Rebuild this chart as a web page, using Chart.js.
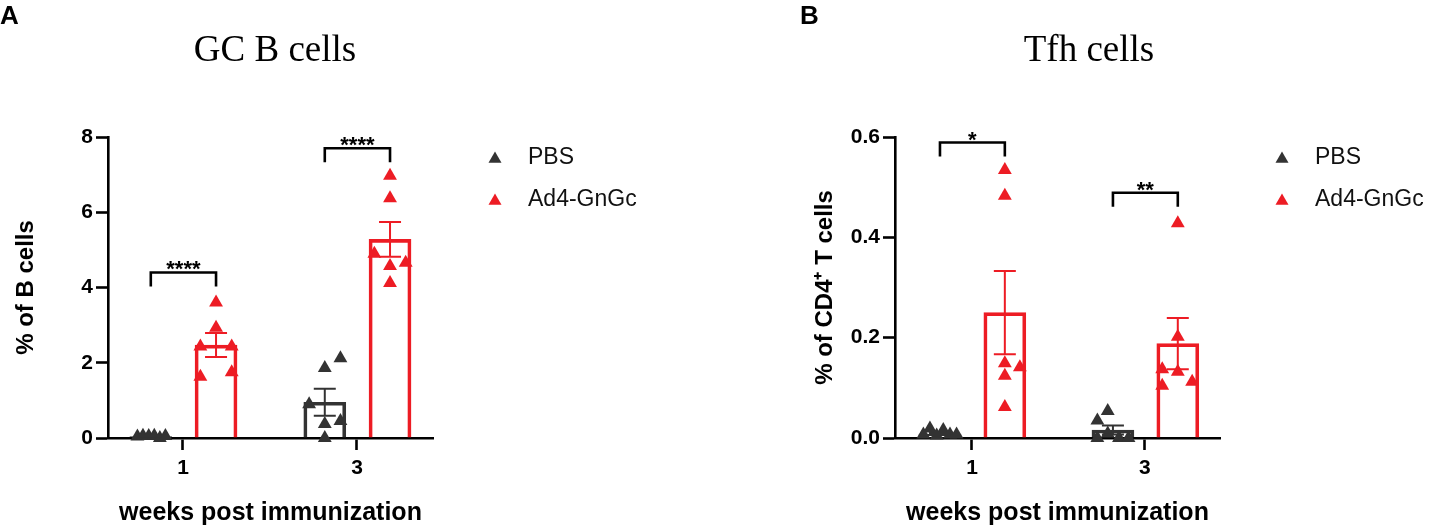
<!DOCTYPE html>
<html>
<head>
<meta charset="utf-8">
<title>GC B cells / Tfh cells</title>
<script src="https://cdn.jsdelivr.net/npm/chart.js@4.4.1/dist/chart.umd.min.js"></script>
<style>
  html, body { margin: 0; padding: 0; background: #fff; }
  #wrap { position: relative; width: 1434px; height: 528px; }
  canvas { position: absolute; top: 0; }
  #chartA { left: 0; }
  #chartB { left: 717px; }
</style>
</head>
<body>
<div id="wrap">
  <canvas id="chartA" width="717" height="528"></canvas>
  <canvas id="chartB" width="717" height="528"></canvas>
</div>
<script>
// ---- data ----
const weeks = ['1', '3'];
const groups = ['PBS', 'Ad4-GnGc'];

// A: GC B cells, % of B cells (6 mice per group)
const gcPbsPoints = [[0.04, 0.06, 0.05, 0.06, 0.0, 0.05], [1.86, 2.12, 0.9, 0.37, 0.45, 0.0]];
const gcAdPoints  = [[3.6, 2.93, 2.43, 2.43, 1.63, 1.75], [6.97, 6.37, 4.9, 4.57, 4.66, 4.12]];
const gcPbsMean = [0.04, 0.95];
const gcPbsSem  = [0.01, 0.36];
const gcAdMean  = [2.47, 5.28];
const gcAdSem   = [0.32, 0.46];
const gcSigY     = [4.4, 7.7];
const gcSigLabel = ['****', '****'];
const gcTicks = [0, 2, 4, 6, 8];

// B: Tfh cells, % of CD4+ T cells
const tfhPbsPoints = [[0.019, 0.016, 0.007, 0.005, 0.007, 0.007], [0.054, 0.035, 0.009, 0.0, 0.0, 0.0]];
const tfhAdPoints  = [[0.534, 0.483, 0.149, 0.141, 0.124, 0.062], [0.428, 0.202, 0.137, 0.132, 0.104, 0.112]];
const tfhPbsMean = [0.008, 0.016];
const tfhPbsSem  = [0.002, 0.009];
const tfhAdMean  = [0.25, 0.188];
const tfhAdSem   = [0.083, 0.051];
const tfhSigY     = [0.589, 0.489];
const tfhSigLabel = ['*', '**'];
const tfhTicks = [0, 0.2, 0.4, 0.6];

// ---- style ----
const SANS = 'Arial, "Liberation Sans", Helvetica, sans-serif';
const SERIF = '"Times New Roman", "Liberation Serif", Times, serif';
const DARK = '#333333';
const RED = '#ED1C24';
const PBS_OFF = -0.185;
const AD_OFF = 0.19;

Chart.defaults.font.family = SANS;
Chart.defaults.color = '#000';

function barData(means, off) {
  return means.map((m, i) => ({ x: i + off, y: m }));
}
function dotData(points, jitter, off) {
  const out = [];
  points.forEach((g, i) => g.forEach((v, j) => out.push({ x: i + off + jitter[i][j], y: v })));
  return out;
}

function triangle(ctx, x, y, r) {
  ctx.beginPath();
  ctx.moveTo(x, y - r);
  ctx.lineTo(x + r * Math.sin(2 * Math.PI / 3), y + r / 2);
  ctx.lineTo(x - r * Math.sin(2 * Math.PI / 3), y + r / 2);
  ctx.closePath();
  ctx.fill();
}

// error bars, significance brackets, titles, legend
const decor = {
  id: 'decor',
  afterDatasetsDraw(chart, args, o) {
    const { ctx } = chart;
    const y = chart.scales.y;
    ctx.save();
    // mean +- SEM
    o.errors.forEach(e => {
      const meta = chart.getDatasetMeta(e.ds);
      e.mean.forEach((m, i) => {
        const px = meta.data[i].x;
        const top = y.getPixelForValue(m + e.sem[i]);
        const bot = y.getPixelForValue(Math.max(0, m - e.sem[i]));
        ctx.strokeStyle = e.color;
        ctx.lineWidth = 2;
        ctx.beginPath();
        ctx.moveTo(px, top); ctx.lineTo(px, bot);
        ctx.moveTo(px - 11, top); ctx.lineTo(px + 11, top);
        ctx.moveTo(px - 11, bot); ctx.lineTo(px + 11, bot);
        ctx.stroke();
      });
    });
    // brackets
    const a = chart.getDatasetMeta(0), b = chart.getDatasetMeta(1);
    o.sigY.forEach((v, i) => {
      const x1 = a.data[i].x, x2 = b.data[i].x;
      const yb = y.getPixelForValue(v);
      ctx.strokeStyle = '#000';
      ctx.lineWidth = 2.6;
      ctx.beginPath();
      ctx.moveTo(x1, yb + 14); ctx.lineTo(x1, yb); ctx.lineTo(x2, yb); ctx.lineTo(x2, yb + 14);
      ctx.stroke();
      ctx.fillStyle = '#000';
      ctx.font = 'bold 22px ' + SANS;
      ctx.textAlign = 'center';
      ctx.textBaseline = 'alphabetic';
      ctx.fillText(o.sigLabel[i], (x1 + x2) / 2, yb + 4);
    });
    ctx.restore();
  },
  afterDraw(chart, args, o) {
    const { ctx } = chart;
    ctx.save();
    ctx.fillStyle = '#000';
    ctx.textBaseline = 'alphabetic';
    ctx.textAlign = 'left';
    ctx.font = 'bold 26px ' + SANS;
    ctx.fillText(o.letter, o.letterX, 24);
    ctx.textAlign = 'center';
    ctx.font = '37px ' + SERIF;
    ctx.fillText(o.title, o.titleX, 61);
    // legend
    ctx.font = '23px ' + SANS;
    ctx.textAlign = 'left';
    ctx.textBaseline = 'middle';
    [2, 3].forEach((d, k) => {
      const ds = chart.data.datasets[d];
      const ly = 158 + k * 42;
      ctx.fillStyle = ds.backgroundColor;
      triangle(ctx, o.legendX, ly + 1, 7.5);
      ctx.fillStyle = '#111';
      ctx.fillText(ds.label, o.legendX + 33, ly);
    });
    ctx.restore();
  }
};

function makePanel(id, p) {
  return new Chart(document.getElementById(id), {
    type: 'bar',
    data: {
      datasets: [
        { type: 'bar', label: groups[0], data: barData(p.pbsMean, PBS_OFF), grouped: false,
          backgroundColor: 'rgba(0,0,0,0)', borderColor: DARK, borderWidth: 3,
          maxBarThickness: 42, barPercentage: 1, categoryPercentage: 1, order: 2 },
        { type: 'bar', label: groups[1], data: barData(p.adMean, AD_OFF), grouped: false,
          backgroundColor: 'rgba(0,0,0,0)', borderColor: RED, borderWidth: 3,
          maxBarThickness: 42, barPercentage: 1, categoryPercentage: 1, order: 2 },
        { type: 'scatter', label: groups[0], data: dotData(p.pbsPoints, p.pbsJitter, PBS_OFF),
          pointStyle: 'triangle', pointRadius: 8, backgroundColor: DARK, borderColor: DARK,
          borderWidth: 0, clip: false, order: 0 },
        { type: 'scatter', label: groups[1], data: dotData(p.adPoints, p.adJitter, AD_OFF),
          pointStyle: 'triangle', pointRadius: 8, backgroundColor: RED, borderColor: RED,
          borderWidth: 0, clip: false, order: 0 }
      ]
    },
    options: {
      responsive: false,
      animation: false,
      layout: { padding: { left: p.padLeft, right: p.padRight, top: 137, bottom: 0 } },
      plugins: {
        legend: { display: false },
        tooltip: { enabled: false },
        decor: {
          errors: [
            { ds: 0, mean: p.pbsMean, sem: p.pbsSem, color: DARK },
            { ds: 1, mean: p.adMean, sem: p.adSem, color: RED }
          ],
          sigY: p.sigY, sigLabel: p.sigLabel,
          letter: p.letter, letterX: p.letterX,
          title: p.title, titleX: p.titleX, legendX: p.legendX
        }
      },
      scales: {
        x: {
          type: 'linear', min: p.xMin, max: p.xMax, offset: false,
          afterBuildTicks: s => { s.ticks = weeks.map((w, i) => ({ value: i })); },
          afterFit: s => { s.height = 90; },
          border: { color: '#000', width: 2.6 },
          grid: { display: true, offset: false, drawOnChartArea: false, drawTicks: true,
                  tickLength: 12, tickWidth: 2.6, tickColor: '#000' },
          ticks: { color: '#000', font: { size: 21, weight: 'bold' }, padding: 6,
                   maxRotation: 0, callback: v => weeks[v] },
          title: { display: true, text: 'weeks post immunization', color: '#000',
                   font: { size: 25, weight: 'bold' }, padding: { top: 0, bottom: 0 } }
        },
        y: {
          min: p.yTicks[0], max: p.yTicks[p.yTicks.length - 1],
          afterBuildTicks: s => { s.ticks = p.yTicks.map(v => ({ value: v })); },
          afterFit: s => { s.width = p.yWidth; },
          border: { color: '#000', width: 2.6 },
          grid: { display: true, drawOnChartArea: false, drawTicks: true,
                  tickLength: 12, tickWidth: 2.6, tickColor: '#000' },
          ticks: { color: '#000', font: { size: 21, weight: 'bold' }, padding: 3,
                   callback: p.tickFmt },
          title: { display: true, text: p.yTitle, color: '#000',
                   font: { size: 24, weight: 'bold' }, padding: { top: 12, bottom: 0 } }
        }
      }
    },
    plugins: [decor]
  });
}

makePanel('chartA', {
  letter: 'A', letterX: 0, title: 'GC B cells', titleX: 275, legendX: 495,
  padLeft: 0, padRight: 284, yWidth: 108, xMin: -0.431, xMax: 1.437,
  yTicks: gcTicks, tickFmt: v => String(v), yTitle: '% of B cells',
  pbsPoints: gcPbsPoints, adPoints: gcAdPoints,
  // horizontal spread of dots inside a bar (axis units)
  pbsJitter: [[-0.077, -0.045, -0.012, 0.02, 0.052, 0.084], [0, 0.09, -0.09, 0, 0.09, 0]],
  adJitter: [[0, 0, -0.09, 0.09, -0.09, 0.09], [0, 0, -0.09, 0, 0.09, 0]],
  pbsMean: gcPbsMean, pbsSem: gcPbsSem, adMean: gcAdMean, adSem: gcAdSem,
  sigY: gcSigY, sigLabel: gcSigLabel
});

makePanel('chartB', {
  letter: 'B', letterX: 83, title: 'Tfh cells', titleX: 372, legendX: 565,
  padLeft: 82, padRight: 214, yWidth: 96, xMin: -0.445, xMax: 1.434,
  yTicks: tfhTicks, tickFmt: v => v.toFixed(1), yTitle: '% of CD4\u207A T cells',
  pbsPoints: tfhPbsPoints, adPoints: tfhAdPoints,
  pbsJitter: [[-0.058, 0.019, -0.096, -0.019, 0.058, 0.096], [-0.03, -0.09, -0.03, -0.09, 0.035, 0.09]],
  adJitter: [[0, 0, 0, 0.087, 0, 0], [0, 0, -0.09, 0, -0.09, 0.083]],
  pbsMean: tfhPbsMean, pbsSem: tfhPbsSem, adMean: tfhAdMean, adSem: tfhAdSem,
  sigY: tfhSigY, sigLabel: tfhSigLabel
});
</script>
</body>
</html>
